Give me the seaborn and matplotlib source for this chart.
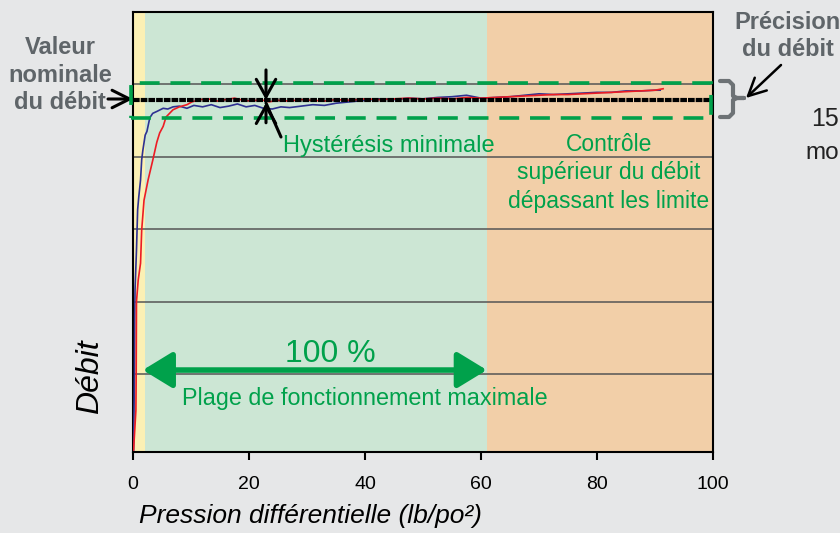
import numpy as np
import pandas as pd
import seaborn as sns
import matplotlib.pyplot as plt
from matplotlib.patches import Rectangle
from matplotlib.lines import Line2D

# pressure (lb/po2) vs flow (grid units)
blue_x = [0.1, 0.25, 0.3, 0.35, 0.6, 0.8, 1.0, 1.3, 1.5, 1.7,
          2.1, 2.4, 2.9, 3.4, 4.2, 5.2, 6.0, 6.9, 8.0, 9.3,
          10.5, 12, 13.5, 15, 16.5, 18, 19.5, 21, 22.5, 24,
          25.5, 27, 29, 31, 33, 35, 37.5, 40, 42.5, 45,
          47.5, 50, 52.5, 55, 57.5, 60, 62.5, 65, 67.5, 70,
          72.5, 75, 77.5, 80, 82.5, 85, 87.5, 90, 90.9]
blue_y = [-0.05, 1.0, 1.8, 2.16, 2.71, 3.27, 3.45, 3.68, 3.96, 4.09,
          4.30, 4.35, 4.54, 4.60, 4.63, 4.67, 4.66, 4.69, 4.70, 4.67,
          4.71, 4.69, 4.72, 4.68, 4.70, 4.73, 4.69, 4.71, 4.67, 4.66,
          4.69, 4.68, 4.70, 4.72, 4.71, 4.74, 4.76, 4.78, 4.80, 4.79,
          4.81, 4.80, 4.82, 4.83, 4.85, 4.81, 4.82, 4.83, 4.85, 4.87,
          4.86, 4.87, 4.88, 4.89, 4.89, 4.91, 4.91, 4.92, 4.92]

red_x = [0.1, 0.5, 0.55, 0.6, 0.9, 1.3, 1.5, 1.9, 2.6, 3.4,
         4.1, 4.6, 5.2, 5.7, 6.9, 8.0, 9.3, 10.2, 11.6, 13,
         14.5, 16, 17.5, 19, 20.5, 22, 23.5, 25, 27, 29,
         31, 33, 35, 37.5, 40, 42.5, 45, 47.5, 50, 52.5,
         55, 57.5, 60, 62.5, 65, 67.5, 70, 72.5, 75, 77.5,
         80, 82.5, 85, 87.5, 90, 91.4]
red_y = [-0.05, 0.5, 1.0, 2.0, 2.3, 2.53, 2.99, 3.40, 3.68, 3.95,
         4.20, 4.33, 4.42, 4.55, 4.65, 4.69, 4.72, 4.76, 4.79, 4.80,
         4.77, 4.79, 4.81, 4.78, 4.77, 4.79, 4.76, 4.78, 4.77, 4.79,
         4.78, 4.77, 4.79, 4.78, 4.80, 4.79, 4.80, 4.81, 4.80, 4.81,
         4.80, 4.82, 4.81, 4.82, 4.83, 4.84, 4.85, 4.86, 4.86, 4.87,
         4.88, 4.89, 4.90, 4.91, 4.92, 4.94]

nominal = 4.785
band_low, band_high = 4.54, 5.02
zones = [(0, 2.1, "#fbf0b4"), (2.1, 61, "#cce6d4"), (61, 100, "#f2cfa8")]
xticks = [0, 20, 40, 60, 80, 100]
grid_y = [1, 2, 3, 4, 5]

GREEN = "#00a14b"
GRAY = "#5f6569"

plt.rcParams['font.family'] = ['Liberation Sans', 'DejaVu Sans']

W, H = 840, 533
fig = plt.figure(figsize=(W / 100, H / 100), dpi=100, facecolor="#e6e7e8")
ax = fig.add_axes([133 / W, 1 - 452 / H, 580 / W, 440 / H])


def fp(px, py):
    return (px / W, 1 - py / H)


for x0, x1, c in zones:
    ax.axvspan(x0, x1, color=c, lw=0, zorder=0)

df = pd.concat([
    pd.DataFrame({"p": blue_x, "q": blue_y, "s": "montee"}),
    pd.DataFrame({"p": red_x, "q": red_y, "s": "descente"}),
])
sns.lineplot(data=df, x="p", y="q", hue="s", palette={"montee": "#2e3192", "descente": "#ed1c24"},
             estimator=None, sort=False, lw=1.2, legend=False, ax=ax, zorder=3)

ax.hlines(nominal, 0, 99.5, color="black", lw=3, linestyles=(0, (1.6, 0.25)), zorder=4)
ax.add_patch(Rectangle((-0.3, band_low), 100, band_high - band_low, fill=False, ec=GREEN,
                       lw=2.6, ls=(0, (5.5, 3)), zorder=5, clip_on=False))

ax.set_xlim(0, 100)
ax.set_ylim(-0.077, 6.0)
ax.set_xticks(xticks)
ax.set_xticklabels([str(t) for t in xticks], fontsize=14)
ax.set_yticks(grid_y)
ax.set_yticklabels([])
ax.tick_params(axis='y', length=0)
ax.tick_params(axis='x', direction='out', length=6, width=1.5, pad=11)
ax.grid(axis='y', color="#555555", lw=1.1)
for s in ax.spines.values():
    s.set_linewidth(1.5)
    s.set_color("black")
ax.set_xlabel("")
ax.set_ylabel("")

# axis titles
fig.text(*fp(139, 516), "Pression différentielle (lb/po²)", style="italic",
         fontsize=19, ha="left", va="center")
fig.text(*fp(90, 377), "Débit", style="italic", fontsize=23,
         rotation=90, ha="center", va="center")

# left note
fig.text(*fp(60, 75), "Valeur\nnominale\ndu débit", color=GRAY, fontweight="bold",
         fontsize=17, ha="center", va="center", linespacing=1.25)
ax.annotate("", xy=fp(133, 99), xytext=fp(108, 99), xycoords="figure fraction",
            textcoords="figure fraction",
            arrowprops=dict(arrowstyle="->,head_length=0.9,head_width=0.45", color="black", lw=2.2,
                            mutation_scale=14, shrinkA=0, shrinkB=0))

# right note
fig.text(*fp(788, 36), "Précision\ndu débit", color=GRAY, fontweight="bold",
         fontsize=17, ha="center", va="center", linespacing=1.25)
ax.annotate("", xy=fp(746, 98), xytext=fp(781, 65), xycoords="figure fraction",
            textcoords="figure fraction",
            arrowprops=dict(arrowstyle="->,head_length=0.9,head_width=0.45", color="black", lw=1.8,
                            mutation_scale=14, shrinkA=0, shrinkB=0))
bx = [720, 729, 733, 733, 737, 744, 737, 733, 733, 729, 720]
by = [81, 81, 85, 96, 98, 98, 98, 100, 113, 117, 117]
fig.add_artist(Line2D([x / W for x in bx], [1 - y / H for y in by], color="#6d7275", lw=3,
                      solid_joinstyle="round", solid_capstyle="round"))
fig.text(*fp(811, 119), "15", color="#222222", fontsize=18, ha="left", va="center")
fig.text(*fp(805, 153), "mo", color="#222222", fontsize=17.5, ha="left", va="center")

# hysteresis marker
hx = (266 - 133) / 5.8
arr = dict(arrowstyle="->,head_length=0.9,head_width=0.5", color="black", lw=2.2,
           mutation_scale=14, shrinkA=0, shrinkB=0)
ax.annotate("", xy=(hx, nominal), xytext=(hx, 5.2), arrowprops=arr, zorder=6)
ax.annotate("", xy=(hx, nominal - 0.04), xytext=(hx, 4.47), arrowprops=arr, zorder=6)
ax.annotate("", xy=fp(266, 103), xytext=fp(281, 137), xycoords="figure fraction",
            textcoords="figure fraction",
            arrowprops=dict(arrowstyle="-", color="black", lw=2.2, shrinkA=0, shrinkB=0))
fig.text(*fp(283, 146), "Hystérésis minimale", color=GREEN, fontsize=17, ha="left", va="center")

fig.text(*fp(609, 173), "Contrôle\nsupérieur du débit\ndépassant les limite", color=GREEN,
         fontsize=16.5, ha="center", va="center", linespacing=1.3)

# operating range
ax.annotate("", xy=(1.7, 1.055), xytext=(61, 1.055),
            arrowprops=dict(arrowstyle="<|-|>,head_length=0.9,head_width=0.55", color=GREEN,
                            lw=4, mutation_scale=20, shrinkA=0, shrinkB=0), zorder=6)
fig.text(*fp(330, 354), "100 %", color=GREEN, fontsize=23, ha="center", va="center")
fig.text(*fp(365, 399), "Plage de fonctionnement maximale", color=GREEN, fontsize=16.8,
         ha="center", va="center")

fig.savefig("out.png", dpi=100, facecolor=fig.get_facecolor())
